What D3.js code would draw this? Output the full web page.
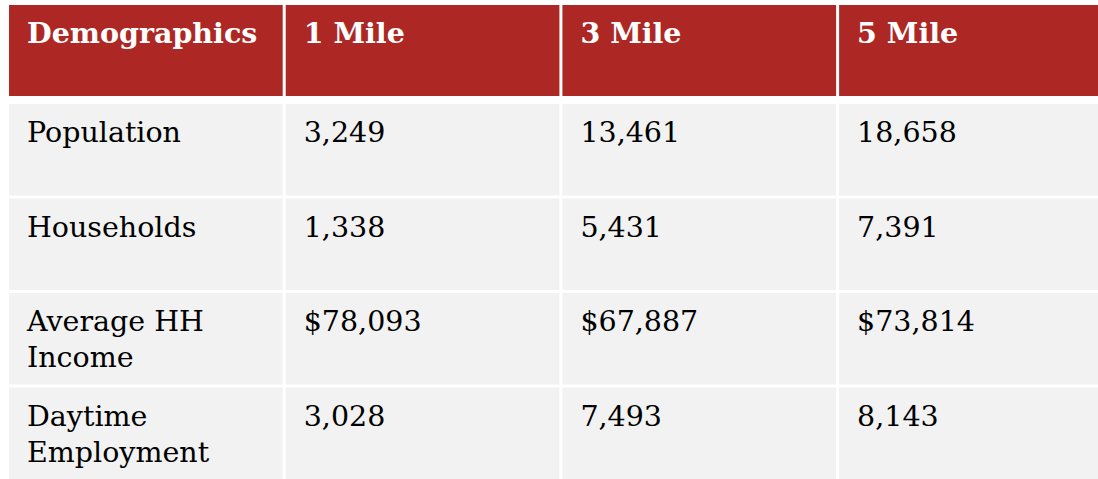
<!DOCTYPE html>
<html>
<head>
<meta charset="utf-8">
<script src="https://cdn.jsdelivr.net/npm/d3@7"></script>
<style>
  body { margin: 0; background: #fff; }
  svg { display: block; }
  text { font-family: "DejaVu Serif", Georgia, serif; }
</style>
</head>
<body>
<div id="chart"></div>
<script>
var headers = ["Demographics", "1 Mile", "3 Mile", "5 Mile"];
var rowLabels = [["Population"], ["Households"], ["Average HH", "Income"], ["Daytime", "Employment"]];
var mile1 = ["3,249", "1,338", "$78,093", "3,028"];
var mile3 = ["13,461", "5,431", "$67,887", "7,493"];
var mile5 = ["18,658", "7,391", "$73,814", "8,143"];

var width = 1098, height = 479;
var svg = d3.select("#chart").append("svg")
  .attr("width", width)
  .attr("height", height);

// columns, 3px white gap between
var colStep = 276.7, gap = 3;
var x = d3.scaleBand()
  .domain(d3.range(headers.length))
  .range([9, 9 + colStep * (4 - gap / colStep)])
  .paddingInner(gap / colStep)
  .paddingOuter(0);

// body rows
var rowStep = 94.5;
var y = d3.scaleBand()
  .domain(d3.range(rowLabels.length))
  .range([104, 104 + rowStep * (4 - gap / rowStep)])
  .paddingInner(gap / rowStep);

var headTop = 5, headBottom = 96;
var fontSize = 28.5, lineH = 36;

// header
var head = svg.append("g").attr("class", "header");
head.selectAll("rect")
  .data(headers)
  .enter().append("rect")
  .attr("x", function(d, i) { return x(i); })
  .attr("y", headTop)
  .attr("width", x.bandwidth())
  .attr("height", headBottom - headTop)
  .attr("fill", "#ad2824");

head.selectAll("text")
  .data(headers)
  .enter().append("text")
  .attr("x", function(d, i) { return x(i) + 18; })
  .attr("y", headTop + 38)
  .attr("fill", "#fff")
  .style("font-size", fontSize + "px")
  .style("font-weight", "bold")
  .text(function(d) { return d; });

// body
var rows = rowLabels.map(function(lab, i) {
  return [lab, [mile1[i]], [mile3[i]], [mile5[i]]];
});

var row = svg.selectAll("g.row")
  .data(rows)
  .enter().append("g")
  .attr("class", "row")
  .attr("transform", function(d, i) { return "translate(0," + y(i) + ")"; });

row.selectAll("rect")
  .data(function(d) { return d; })
  .enter().append("rect")
  .attr("x", function(d, i) { return x(i); })
  .attr("y", 0)
  .attr("width", x.bandwidth())
  .attr("height", y.bandwidth())
  .attr("fill", "#f2f2f2");

var cell = row.selectAll("text")
  .data(function(d) { return d; })
  .enter().append("text")
  .attr("x", function(d, i) { return x(i) + 18; })
  .attr("y", 38)
  .attr("fill", "#000")
  .style("font-size", fontSize + "px");

cell.selectAll("tspan")
  .data(function(d) { return d; })
  .enter().append("tspan")
  .attr("x", function() { return this.parentNode.getAttribute("x"); })
  .attr("dy", function(d, i) { return i === 0 ? 0 : lineH; })
  .text(function(d) { return d; });
</script>
</body>
</html>
